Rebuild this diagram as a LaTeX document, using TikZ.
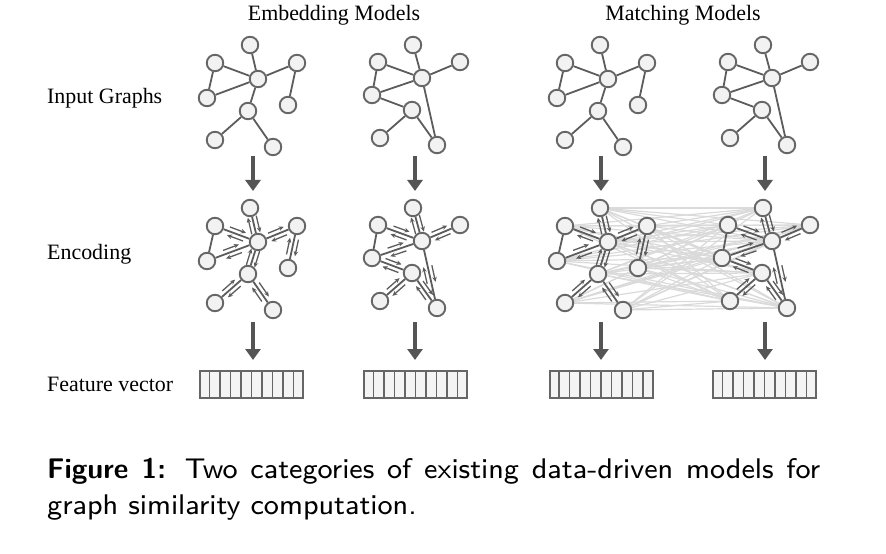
\documentclass[tikz,border=0pt]{standalone}
\usepackage{fontspec}
\newfontfamily\labfont{Liberation Serif}
\usetikzlibrary{arrows.meta,decorations.markings,backgrounds,calc}
\definecolor{nodefill}{HTML}{F2F2F2}
\definecolor{nodeborder}{HTML}{666666}
\definecolor{edgecol}{HTML}{5C5C5C}
\definecolor{bigcol}{HTML}{555555}
\definecolor{crosscol}{HTML}{DADADA}
\definecolor{cellfill}{HTML}{F4F4F4}
\newcommand\graphA[2]{%
  \node[gn] (#1t)  at (250,45)  {};
  \node[gn] (#1ul) at (215,63)  {};
  \node[gn] (#1r)  at (297,63)  {};
  \node[gn] (#1c)  at (258,79)  {};
  \node[gn] (#1l)  at (207,98)  {};
  \node[gn] (#1rl) at (288,105) {};
  \node[gn] (#1m)  at (248,111) {};
  \node[gn] (#1bl) at (215,140) {};
  \node[gn] (#1br) at (273,147) {};
  \path[edge] (#1ul) -- (#1l);
  \path[#2] (#1t) -- (#1c);
  \path[#2] (#1ul) -- (#1c);
  \path[#2] (#1c) -- (#1r);
  \path[#2] (#1l) -- (#1c);
  \path[#2] (#1r) -- (#1rl);
  \path[#2] (#1c) -- (#1m);
  \path[#2] (#1m) -- (#1bl);
  \path[#2] (#1m) -- (#1br);
}
\newcommand\graphB[2]{%
  \node[gn] (#1t)  at (413,45)  {};
  \node[gn] (#1ul) at (378,62)  {};
  \node[gn] (#1r)  at (460,62)  {};
  \node[gn] (#1c)  at (422,78)  {};
  \node[gn] (#1l)  at (372,95)  {};
  \node[gn] (#1m)  at (412,110) {};
  \node[gn] (#1bl) at (380,138) {};
  \node[gn] (#1br) at (437,145) {};
  \path[edge] (#1ul) -- (#1l);
  \path[#2] (#1t) -- (#1c);
  \path[#2] (#1ul) -- (#1c);
  \path[#2] (#1c) -- (#1r);
  \path[#2] (#1l) -- (#1c);
  \path[#2] (#1l) -- (#1m);
  \path[#2] (#1m) -- (#1bl);
  \path[#2] (#1m) -- (#1br);
  \path[#2] (#1c) -- (#1br);
}
\newcommand\fvec[2]{%
  \node[fv] (#1) at (#2) {};
  \foreach \i in {1,...,9}
    \draw[fvline] ($(#1.north west)!\i/10!(#1.north east)$) -- ($(#1.south west)!\i/10!(#1.south east)$);
  \node[fv,fill=none] at (#2) {};
}
\begin{document}
\begin{tikzpicture}[x=1bp,y=-1bp,
  gn/.style={circle,draw=nodeborder,fill=nodefill,line width=1.9bp,minimum size=16.5bp,inner sep=0},
  edge/.style={draw=edgecol,line width=1.8bp},
  msg/.style={draw=edgecol,line width=1.3bp,-{Stealth[length=5bp,width=4.5bp]}},
  enc/.style={edge,postaction={decorate},
    decoration={markings,mark=at position 0.5 with {
      \draw[msg] (-8.5bp,4.3bp) -- (8.5bp,4.3bp);
      \draw[msg] (8.5bp,-4.3bp) -- (-8.5bp,-4.3bp);}}},
  big/.style={draw=bigcol,line width=4.5bp,-{Triangle[length=11bp,width=15bp]}},
  cross/.style={draw=crosscol,line width=1.2bp},
  fv/.style={rectangle,draw=nodeborder,line width=2bp,fill=cellfill,minimum width=103bp,minimum height=27bp,inner sep=0},
  fvline/.style={draw=nodeborder,line width=1.6bp},
  lab/.style={font=\labfont\fontsize{22}{24}\selectfont,inner sep=0},
  captext/.style={font=\sffamily\fontsize{29}{37}\selectfont,inner sep=0,anchor=base west}]
\useasboundingbox (0,0) rectangle (886,554);

% titles and row labels
\node[lab,anchor=base] (tEmb) at (334,21) {Embedding Models};
\node[lab,anchor=base] (tMat) at (683,21) {Matching Models};
\node[lab,anchor=base west] (lIn) at (47,104) {Input Graphs};
\node[lab,anchor=base west] (lEnc) at (47,260) {Encoding};
\node[lab,anchor=base west] (lFv) at (47,391) {Feature vector};

% input graphs
\graphA{A-}{edge}
\graphB{B-}{edge}
\begin{scope}[shift={(350,0)}]
  \graphA{C-}{edge}
  \graphB{D-}{edge}
\end{scope}

% encoding graphs
\begin{scope}[shift={(0,163)}]
  \graphA{Ae-}{enc}
  \graphB{Be-}{enc}
\end{scope}
\begin{scope}[shift={(350,163)}]
  \graphA{Ce-}{enc}
  \graphB{De-}{enc}
\end{scope}

% matching cross-graph edges
\begin{scope}[on background layer]
  \foreach \a in {t,ul,r,c,l,rl,m,bl,br}{
    \foreach \b in {t,ul,r,c,l,m,bl,br}{
      \draw[cross] (Ce-\a.center) -- (De-\b.center);
    }
  }
\end{scope}

% feature vectors
\fvec{fvA}{251.5,384.5}
\fvec{fvB}{415.5,384.5}
\fvec{fvC}{601,384.5}
\fvec{fvD}{764.5,384.5}

% big arrows
\foreach \n/\x in {A/253,B/415,C/601,D/765}{
  \coordinate (\n s1) at (\x,156);
  \coordinate (\n e1) at (\x,191);
  \coordinate (\n s2) at (\x,322);
  \coordinate (\n e2) at (\x,360);
  \draw[big] (\n s1) -- (\n e1);
  \draw[big] (\n s2) -- (\n e2);
}

% caption
\node[captext] (cap1) at (47,478) {\scalebox{3.55}{\fontsize{8bp}{10bp}\selectfont\makebox[217.75bp][s]{\textbf{Figure 1:} Two categories of existing data-driven models for}}};
\node[captext] (cap2) at (47,514) {\scalebox{3.55}{\fontsize{8bp}{10bp}\selectfont graph similarity computation.}};
\end{tikzpicture}
\end{document}
